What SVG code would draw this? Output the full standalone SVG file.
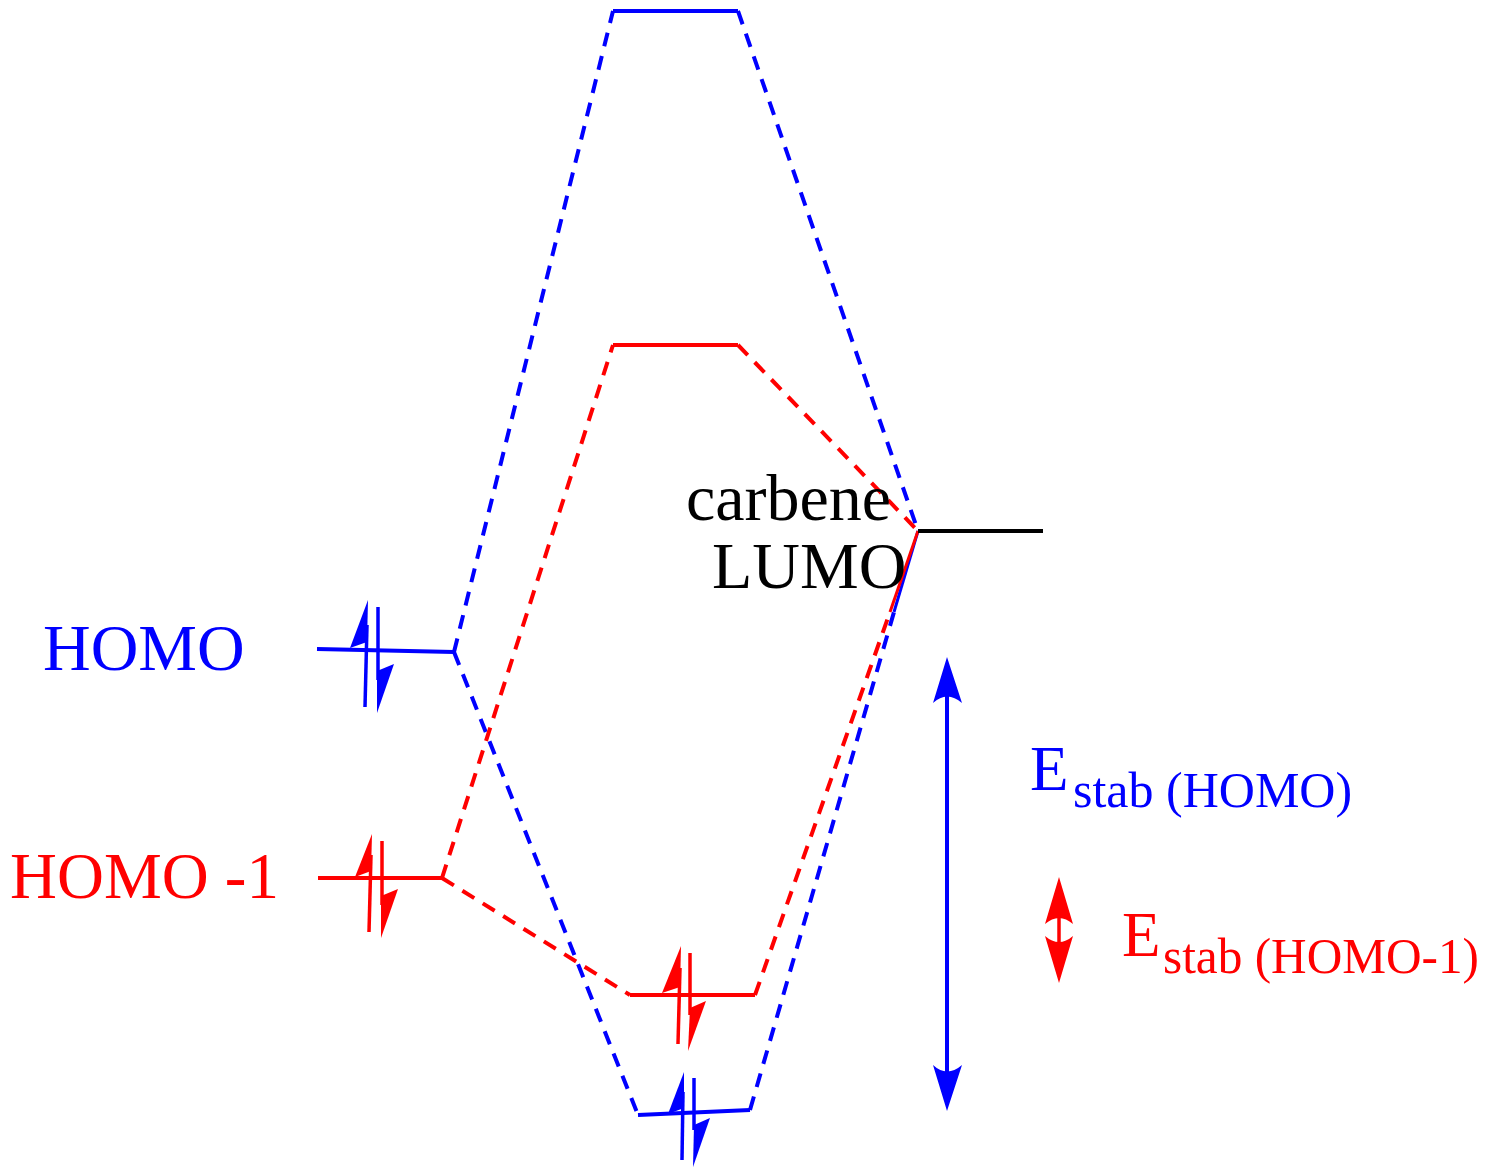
<svg xmlns="http://www.w3.org/2000/svg" width="1492" height="1176" viewBox="0 0 1492 1176">
<style>
.lv{fill:none;stroke-width:4;stroke-linecap:butt}
.ds{fill:none;stroke-width:4;stroke-dasharray:14 10}
.b{stroke:#0000ff}
.r{stroke:#ff0000}
.k{stroke:#000000}
.fb{fill:#0000ff}
.fr{fill:#ff0000}
.t{font-family:"Liberation Serif","Times New Roman",serif}
.sh{stroke-width:3.5;fill:none}
</style>
<rect width="1492" height="1176" fill="#ffffff"/>
<g id="connectors">
  <path class="ds b" d="M454,652 L613,11"/>
  <path class="ds b" d="M738,11 L918,531"/>
  <path class="ds b" d="M454,652 L638,1115"/>
  <path class="ds b" d="M750,1110 L894,612"/>
  <path class="lv b" style="stroke-width:3" d="M918,531 L894,612"/>
  <path class="ds r" d="M442,878 L613,345"/>
  <path class="ds r" d="M738,345 L918,531"/>
  <path class="ds r" d="M442,878 L630,995"/>
  <path class="ds r" d="M755,995 L890,612"/>
  <path class="lv r" style="stroke-width:3" d="M918,531 L890,612"/>
</g>
<g id="homo">
  <path class="lv b" d="M317,649 L454,652"/>
  <path class="sh b" d="M365,707 L367,625"/>
  <path class="fb" d="M368,600 L350,648 L367,642 Z"/>
  <path class="sh b" d="M378,607 L378,680"/>
  <path class="fb" d="M377,713 L394,664 L377,671 Z"/>
  <text class="t fb" x="43" y="670" font-size="66">HOMO</text>
</g>
<g id="homo-1">
  <path class="lv r" d="M318,878 L442,878"/>
  <path class="sh r" d="M369,932 L371,855"/>
  <path class="fr" d="M372,834 L355,877 L371,871 Z"/>
  <path class="sh r" d="M382,841 L382,905"/>
  <path class="fr" d="M381,938 L398,889 L381,896 Z"/>
  <text class="t fr" x="10" y="898" font-size="65">HOMO -1</text>
</g>
<g id="top-blue">
  <path class="lv b" d="M613,11 L738,11"/>
</g>
<g id="top-red">
  <path class="lv r" d="M613,345 L738,345"/>
</g>
<g id="bottom-red">
  <path class="lv r" d="M630,995 L755,995"/>
  <path class="sh r" d="M678,1044 L680,968"/>
  <path class="fr" d="M681,946 L662,993 L680,987 Z"/>
  <path class="sh r" d="M690,953 L690,1015"/>
  <path class="fr" d="M688,1051 L706,1001 L690,1008 Z"/>
</g>
<g id="bottom-blue">
  <path class="lv b" d="M638,1115 L750,1110"/>
  <path class="sh b" d="M682,1160 L683,1092"/>
  <path class="fb" d="M684,1072 L668,1114 L684,1108 Z"/>
  <path class="sh b" d="M694,1078 L694,1130"/>
  <path class="fb" d="M693,1167 L710,1118 L694,1125 Z"/>
</g>
<g id="lumo">
  <path class="lv k" d="M918,531 L1043,531"/>
  <text class="t" x="686" y="520" font-size="66" fill="#000000">carbene</text>
  <text class="t" x="712" y="588" font-size="66" fill="#000000">LUMO</text>
</g>
<g id="estab-homo">
  <path class="lv b" d="M947,692 L947,1076"/>
  <path class="fb" d="M947,657 L962,703 Q947,690 933,703 Z"/>
  <path class="fb" d="M947,1111 L962,1065 Q947,1078 933,1065 Z"/>
  <text class="t fb" x="1030" y="790" font-size="63">E</text>
  <text class="t fb" x="1073" y="807" font-size="50">stab (HOMO)</text>
</g>
<g id="estab-homo-1">
  <path class="sh r" d="M1059,915 L1059,945"/>
  <path class="fr" d="M1059,877 L1073,924 Q1059,912 1045,924 Z"/>
  <path class="fr" d="M1059,983 L1073,936 Q1059,948 1045,936 Z"/>
  <text class="t fr" x="1122" y="956" font-size="63">E</text>
  <text class="t fr" x="1163" y="973" font-size="50" textLength="316" lengthAdjust="spacingAndGlyphs">stab (HOMO-1)</text>
</g>
</svg>
